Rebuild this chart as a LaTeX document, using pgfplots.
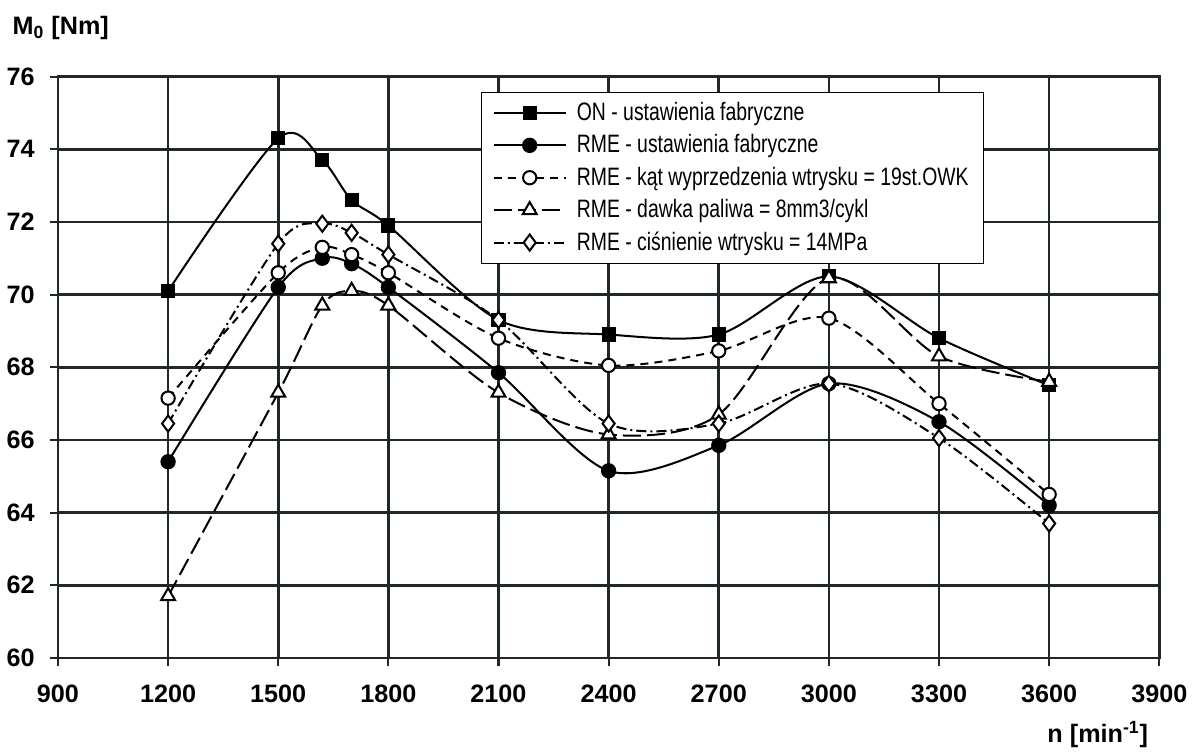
\documentclass[border=0pt]{standalone}
\usepackage{pgfplots}
\pgfplotsset{compat=1.18}
\usepackage{fontspec}
\setmainfont{Liberation Sans}
\newfontfamily\legfont{Liberation Sans}[FakeStretch=0.77]

\definecolor{gridc}{RGB}{32,40,40}

\begin{document}
\begin{tikzpicture}
\begin{axis}[
  scale only axis, width=546.5pt, height=288.5pt,
  xmin=900, xmax=3900, ymin=60, ymax=76,
  xtick={900,1200,...,3900}, ytick={60,62,...,76},
  grid=major, major grid style={line width=1.3pt, gridc},
  axis line style={line width=1.3pt, gridc},
  tick style={line width=1pt, gridc},
  tick align=outside, tick pos=left, major tick length=4pt,
  /pgf/number format/assume math mode=true,
  /pgf/number format/set thousands separator={},
  ticklabel style={font=\bfseries\fontsize{12.5}{14}\selectfont},
  xticklabel style={yshift=-6pt},
  yticklabel style={xshift=-4pt},
  clip=false,
  legend cell align=left,
  legend style={at={(0.384,0.974)}, anchor=north west, draw=black, line width=0.6pt,
    fill=white, font=\legfont\fontsize{12.5}{14.5}\selectfont, row sep=1.5pt,
    inner xsep=5.5pt, inner ysep=3pt, column sep=3pt},
  legend image code/.code={
    \draw[mark repeat=2,mark phase=2,#1] plot coordinates {(0cm,0cm) (0.63cm,0cm) (1.26cm,0cm)};
  },
  every axis plot/.append style={line width=1pt, black, smooth, tension=0.5},
]
\addplot[mark=square*, mark size=3pt, mark options={solid}] coordinates {
  (1200,70.1) (1500,74.3) (1620,73.7) (1700,72.6) (1800,71.9) (2100,69.3)
  (2400,68.9) (2700,68.9) (3000,70.5) (3300,68.8) (3600,67.5)};
\addlegendentry{ON - ustawienia fabryczne}
\addplot[mark=*, mark size=3.3pt, mark options={solid}] coordinates {
  (1200,65.4) (1500,70.2) (1620,71.0) (1700,70.85) (1800,70.2) (2100,67.85)
  (2400,65.15) (2700,65.85) (3000,67.55) (3300,66.5) (3600,64.2)};
\addlegendentry{RME - ustawienia fabryczne}
\addplot[mark=*, mark size=3.3pt, mark options={solid, fill=white}, dash pattern=on 4pt off 3pt] coordinates {
  (1200,67.15) (1500,70.6) (1620,71.3) (1700,71.1) (1800,70.6) (2100,68.8)
  (2400,68.05) (2700,68.45) (3000,69.35) (3300,67.0) (3600,64.5)};
\addlegendentry{RME - kąt wyprzedzenia wtrysku = 19st.OWK}
\addplot[mark=triangle*, mark size=4pt, mark options={solid, fill=white}, dash pattern=on 9pt off 3pt] coordinates {
  (1200,61.7) (1500,67.3) (1620,69.7) (1700,70.1) (1800,69.7) (2100,67.3)
  (2400,66.15) (2700,66.7) (3000,70.45) (3300,68.3) (3600,67.6)};
\addlegendentry{RME - dawka paliwa = 8mm3/cykl}
\addplot[mark=diamond*, mark size=4pt, mark options={solid, fill=white}, dash pattern=on 5pt off 2pt on 1pt off 2pt] coordinates {
  (1200,66.45) (1500,71.4) (1620,71.95) (1700,71.7) (1800,71.1) (2100,69.3)
  (2400,66.45) (2700,66.45) (3000,67.55) (3300,66.05) (3600,63.7)};
\addlegendentry{RME - ciśnienie wtrysku = 14MPa}

\node[anchor=west, font=\bfseries\fontsize{12.5}{14}\selectfont] at (rel axis cs:0,1) [xshift=-26pt, yshift=24pt] {M\textsubscript{0} [Nm]};
\node[anchor=north east, font=\bfseries\fontsize{12.5}{14}\selectfont] at (rel axis cs:1,0) [xshift=-2pt, yshift=-28pt] {n [min\textsuperscript{-1}]};
\path (rel axis cs:0,1) ++(0pt,38pt) coordinate (topmargin);
\end{axis}
\end{tikzpicture}
\end{document}
